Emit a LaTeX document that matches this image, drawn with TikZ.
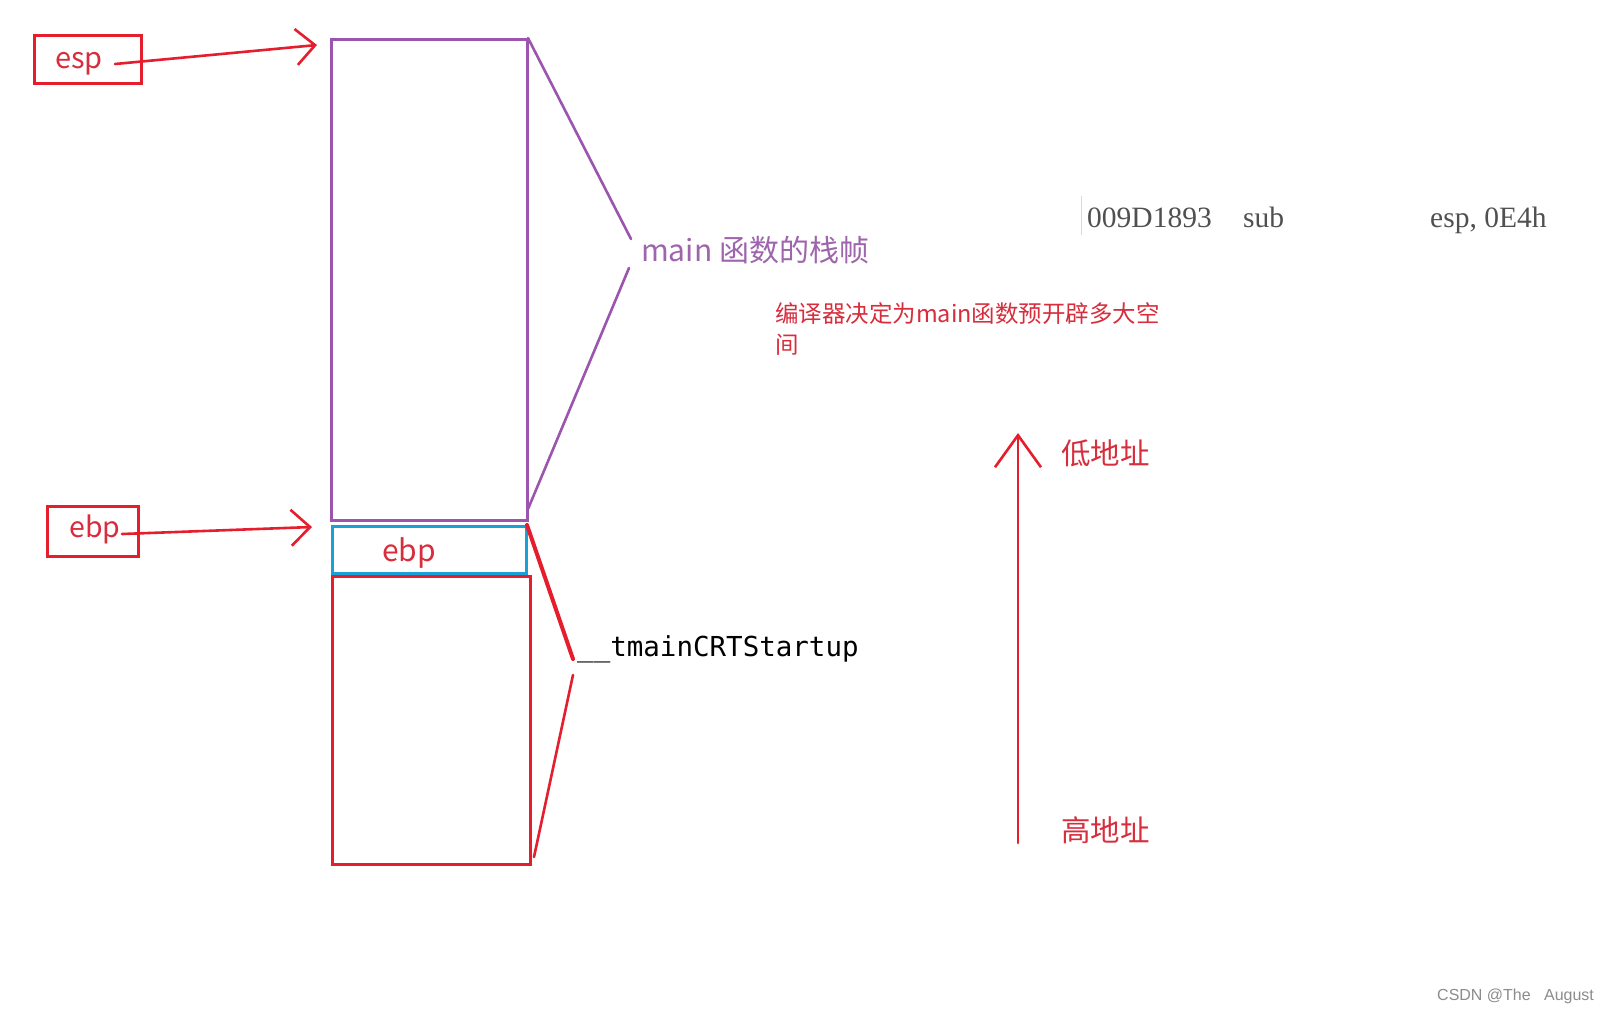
\documentclass[tikz,border=0pt]{standalone}
\usepackage{fontspec}
\newfontfamily\cjk{Noto Sans CJK SC}
\newfontfamily\monof{DejaVu Sans Mono}
\newfontfamily\serf{Liberation Serif}
\newfontfamily\sansf{Liberation Sans}
\usetikzlibrary{arrows.meta}
\definecolor{myred}{RGB}{228,30,45}
\definecolor{mypurple}{RGB}{155,85,175}
\definecolor{purpletext}{RGB}{158,100,172}
\definecolor{mycyan}{RGB}{25,160,215}
\definecolor{redtext}{RGB}{215,45,60}
\definecolor{asmgray}{RGB}{80,80,80}
\tikzset{
  regbox/.style={draw=myred, line width=3pt, inner sep=0pt, minimum width=107pt, minimum height=48pt},
  regtext/.style={text=redtext, inner sep=0pt, font=\cjk\fontsize{29}{34}\selectfont},
  framebox/.style={line width=3pt, inner sep=0pt, anchor=north west},
  redarrow/.style={draw=myred, line width=2.6pt, line cap=round, line join=round, -{Straight Barb[length=19pt, width=36pt, line width=2.6pt]}},
  bracketp/.style={draw=mypurple, line width=2.6pt, line cap=round},
  bracketr/.style={draw=myred, line width=2.6pt, line cap=round},
  lbl/.style={anchor=west, inner sep=0pt},
  asm/.style={anchor=base west, inner sep=0pt, text=asmgray, font=\serf\fontsize{29.5}{34}\selectfont},
}
\begin{document}
\begin{tikzpicture}[x=1pt,y=-1pt]
\useasboundingbox (0,0) rectangle (1615,1015);
\fill[white] (0,0) rectangle (1615,1015);

% register boxes
\node[regbox] (esp) at (87.5,59) {};
\node[regtext] (esptext) at (79,64) {esp};
\node[regbox, minimum width=91pt, minimum height=50pt] (ebpreg) at (92.5,531) {};
\node[regtext, font=\cjk\fontsize{28.5}{34}\selectfont] (ebpregtext) at (95,529) {ebp};

% stack frames
\node[framebox, draw=mypurple, minimum width=196pt, minimum height=481pt] (mainframe) at (330,38) {};
\node[framebox, draw=mycyan, minimum width=194pt, minimum height=47pt] (ebpslot) at (331,525) {};
\node[text=redtext, inner sep=0pt, font=\cjk\fontsize{30}{34}\selectfont] (ebptext) at (409,553) {ebp};
\node[framebox, draw=myred, minimum width=198pt, minimum height=288pt] (crtframe) at (331,575) {};

% arrows from registers
\coordinate (espstart) at (115,64);
\coordinate (esptip) at (317,45);
\coordinate (ebpstart) at (122,534);
\coordinate (ebptip) at (312,527);
\draw[redarrow] (espstart) -- (esptip);
\draw[redarrow] (ebpstart) -- (ebptip);

% brackets
\coordinate (pb1) at (528,38);
\coordinate (pb2) at (631,239);
\coordinate (pb3) at (629,268);
\coordinate (pb4) at (528,509);
\draw[bracketp] (pb1) -- (pb2);
\draw[bracketp] (pb3) -- (pb4);
\node[lbl, text=purpletext, font=\cjk\fontsize{30}{34}\selectfont] (mainlbl) at (641,250) {main 函数的栈帧};

\coordinate (rb1) at (527,525);
\coordinate (rb2) at (573,659);
\coordinate (rb3) at (573,675);
\coordinate (rb4) at (534,857);
\draw[bracketr, line width=4pt] (rb1) -- (rb2);
\draw[bracketr] (rb3) -- (rb4);
\node[lbl, font=\monof\fontsize{27.5}{32}\selectfont] (crtlbl) at (577,649) {\_\_tmainCRTStartup};

% assembly line
\coordinate (asmbar1) at (1081,196);
\coordinate (asmbar2) at (1081,235);
\draw[black!15, line width=1pt] (asmbar1) -- (asmbar2);
\node[asm] (asmaddr) at (1087,227) {009D1893};
\node[asm] (asmop) at (1243,227) {sub};
\node[asm] (asmarg) at (1430,227) {esp, 0E4h};

% compiler note
\node[anchor=north west, inner sep=0pt, text=redtext, align=left, font=\cjk\fontsize{23.5}{31}\selectfont] (note) at (775,302) {编译器决定为main函数预开辟多大空\\间};

% address direction
\coordinate (addrlow) at (1018,843);
\coordinate (addrhigh) at (1018,433);
\draw[draw=myred, line width=2.6pt, line cap=round, -{Straight Barb[length=32pt, width=46pt, line width=2.6pt]}] (addrlow) -- (addrhigh);
\node[lbl, text=redtext, font=\cjk\fontsize{29.5}{34}\selectfont] (lowlbl) at (1061,453) {低地址};
\node[lbl, text=redtext, font=\cjk\fontsize{29.5}{34}\selectfont] (highlbl) at (1061,830) {高地址};

% watermark
\node[lbl, text=black!45, font=\sansf\fontsize{16}{20}\selectfont] (csdn) at (1437,996) {CSDN @The\ \ \ August};
\end{tikzpicture}
\end{document}
